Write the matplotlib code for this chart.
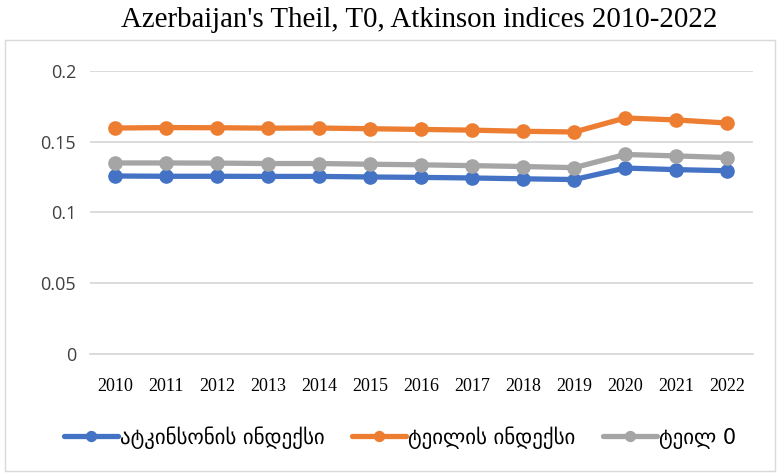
import numpy as np
import matplotlib
matplotlib.use("Agg")
import matplotlib.pyplot as plt
from matplotlib.patches import Rectangle

years = ['2010', '2011', '2012', '2013', '2014', '2015', '2016',
         '2017', '2018', '2019', '2020', '2021', '2022']
atkinson = [0.1258, 0.1256, 0.1256, 0.1255, 0.1255, 0.1251, 0.1248,
            0.1244, 0.1238, 0.1233, 0.1314, 0.1303, 0.1295]
theil = [0.1597, 0.1600, 0.1599, 0.1596, 0.1597, 0.1592, 0.1587,
         0.1582, 0.1574, 0.1569, 0.1668, 0.1654, 0.1632]
theil0 = [0.1350, 0.1350, 0.1349, 0.1346, 0.1346, 0.1341, 0.1337,
          0.1331, 0.1325, 0.1317, 0.1410, 0.1400, 0.1388]

labels = ['ატკინსონის ინდექსი', 'ტეილის ინდექსი', 'ტეილ 0']
colors = ['#4472C4', '#ED7D31', '#A5A5A5']

fig = plt.figure(figsize=(7.77, 4.73), dpi=100)
ax = fig.add_axes([0.1158, 0.2516, 0.853, 0.5983])

# outer chart frame
fig.patches.append(Rectangle((0.006, 0.004), 0.992, 0.912, transform=fig.transFigure,
                             fill=False, edgecolor='#D9D9D9', linewidth=1.0))

x = np.arange(len(years))
for vals, lab, col in zip([atkinson, theil, theil0], labels, colors):
    ax.plot(x, vals, color=col, linewidth=3.8, marker='o', markersize=9.5,
            label=lab, solid_capstyle='round')

ax.set_xlim(-0.5, len(years) - 0.5)
ax.set_ylim(0, 0.2)
ax.set_yticks([0, 0.05, 0.1, 0.15, 0.2])
ax.set_yticklabels(['0', '0.05', '0.1', '0.15', '0.2'], fontsize=13,
                   family='Open Sans', color='#404040')
ax.set_xticks(x)
ax.set_xticklabels(years, fontsize=13, family='Liberation Serif', color='#000000')
ax.grid(axis='y', color='#D9D9D9', linewidth=1.3)
ax.set_axisbelow(True)
for s in ['top', 'right', 'left']:
    ax.spines[s].set_visible(False)
ax.spines['bottom'].set_color('#D9D9D9')
ax.spines['bottom'].set_linewidth(1.3)
ax.tick_params(axis='x', length=0, pad=17)
ax.tick_params(axis='y', length=0, pad=10)

fig.suptitle("Azerbaijan's Theil, T0, Atkinson indices 2010-2022", x=0.54, y=0.985,
             fontsize=20.8, family='Liberation Serif')

fig.legend(loc='center', bbox_to_anchor=(0.515, 0.075), ncol=3, frameon=False,
           prop={'family': 'DejaVu Sans', 'size': 15}, handlelength=2.6,
           markerscale=0.75, handletextpad=0.1, columnspacing=1.3)

fig.savefig('out.png', dpi=100)
